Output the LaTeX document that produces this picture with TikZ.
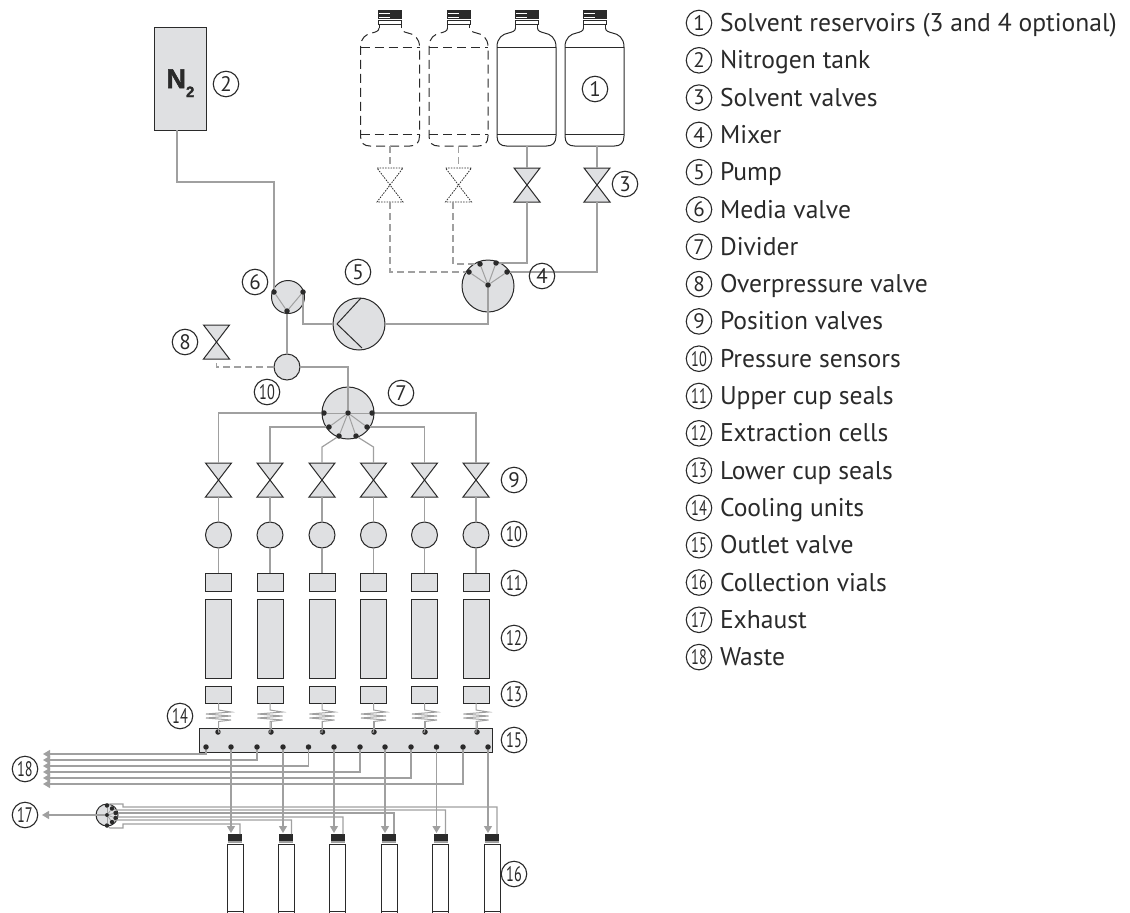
\documentclass[tikz,border=0pt]{standalone}
\usepackage{fontspec}
\usepackage{graphicx}
\setmainfont{PT Sans}
\newfontfamily\ntwofont[FakeBold=2]{Liberation Sans Bold}
\usetikzlibrary{arrows.meta,calc}
\definecolor{fillgrey}{HTML}{DFE0E2}
\definecolor{pipegrey}{HTML}{A0A0A0}
\definecolor{inkgrey}{HTML}{2A2A2A}
\tikzset{
  part/.style={draw=inkgrey,fill=fillgrey,line width=1pt,inner sep=0,outer sep=0},
  roundpart/.style={part,circle,minimum size=#1},
  boxpart/.style={part,rectangle},
  valvenode/.style={rectangle,inner sep=0,outer sep=0,minimum width=26pt,minimum height=34pt},
  valveline/.style={draw=inkgrey,fill=fillgrey,line width=1pt,line join=miter},
  ghostvalve/.style={draw=inkgrey,line width=.8pt,dash pattern=on 1.5pt off 1.2pt},
  bodyline/.style={draw=inkgrey,line width=1pt},
  ghostline/.style={draw=inkgrey,line width=1pt,dash pattern=on 9pt off 5pt},
  pipe/.style={draw=pipegrey,line width=1.2pt},
  ghostpipe/.style={draw=pipegrey,line width=1.2pt,dash pattern=on 7pt off 4pt},
  flow/.style={pipe,-{Triangle[length=7pt,width=8pt]}},
  dot/.style={circle,fill=inkgrey,inner sep=0,outer sep=0,minimum size=5.5pt},
  num/.style={circle,draw=inkgrey,line width=1.1pt,minimum size=25.5pt,inner sep=0,outer sep=0,text=inkgrey,font=\fontsize{21}{21}\selectfont},
  legend/.style={anchor=base west,inner sep=0,outer sep=0,text=inkgrey,font=\fontsize{25.6}{28}\selectfont},
}
\newcommand{\nar}[1]{\scalebox{.68}[1]{#1}}
\newcommand{\myValve}[3]{\node[valvenode] (#1) at (#2,#3) {};
  \path[valveline] (#1.north west) -- (#1.north east) -- (#1.south west) -- (#1.south east) -- cycle;}
\newcommand{\ghostValve}[3]{\node[valvenode] (#1) at (#2,#3) {};
  \path[ghostvalve] (#1.north west) -- (#1.north east) -- (#1.south west) -- (#1.south east) -- cycle;}
\newcommand{\myCap}{%
  \draw[inkgrey,line width=.8pt] (-11,28) -- (-11,24) (11,28) -- (11,24);
  \draw[inkgrey,line width=.8pt] (-11.5,20) rectangle (11.5,24);
  \draw[inkgrey,line width=.7pt] (-11.5,10) rectangle (11.5,18.5);
  \fill[inkgrey] (-11.5,10.5) rectangle (11.5,13.2);
  \fill[inkgrey] (-11.5,14.4) rectangle (11.5,16.5);
  \fill[inkgrey] (0,10.5) rectangle (11.5,18.5);
}
\newcommand{\myBottle}[3]{%
  \node[inner sep=0,outer sep=0,minimum width=59pt,minimum height=136pt] (#1) at (#2,78) {};
  \begin{scope}[shift={(#2,0)}]
    \myCap
    \path[#3] (-11,28) .. controls (-11,31) and (-14,32) .. (-18,33) .. controls (-24,34) and (-29.5,38) .. (-29.5,47) -- (-29.5,136) .. controls (-29.5,143) and (-26,146) .. (-20,146) -- (20,146) .. controls (26,146) and (29.5,143) .. (29.5,136) -- (29.5,47) .. controls (29.5,38) and (24,34) .. (18,33) .. controls (14,32) and (11,31) .. (11,28);
    \path[#3] (-29.5,47) -- (29.5,47) (-29.5,134.5) -- (29.5,134.5);
  \end{scope}}
\newcommand{\myVial}[2]{%
  \node[draw=inkgrey,fill=white,line width=1pt,inner sep=0,outer sep=0,minimum width=16pt,minimum height=70pt] (#1) at (#2,879) {};
  \draw[inkgrey,line width=.8pt] (#2-8,911) -- (#2+8,911);
  \fill[inkgrey] (#2-7,834) rectangle (#2+7,840.5);
  \fill[pipegrey] (#2-7,841) rectangle (#2+7,843);}
\begin{document}
\begin{tikzpicture}[x=1pt,y=-1pt]
\useasboundingbox (0,0) rectangle (1130,913);

%% reservoirs
\myBottle{b1}{390}{ghostline}
\myBottle{b2}{458.5}{ghostline}
\myBottle{b3}{526.5}{bodyline}
\myBottle{b4}{594.5}{bodyline}
%% solvent valves
\ghostValve{sv1}{390}{185}
\ghostValve{sv2}{458.5}{185}
\myValve{sv3}{527}{185}
\myValve{sv4}{597}{185}
\draw[ghostpipe] (sv1.north |- b1.south) -- (sv1.north);
\draw[ghostpipe] (sv2.north |- b2.south) -- (sv2.north);
\draw[pipe] (sv3.north |- b3.south) -- (sv3.north);
\draw[pipe] (sv4.north |- b4.south) -- (sv4.north);

%% nitrogen
\node[boxpart,minimum width=52pt,minimum height=103pt] (n2) at (180,78.5) {};
\node[inner sep=0,outer sep=0,anchor=base west,text=inkgrey] (n2t) at (166.5,88) {\fontsize{27}{27}\ntwofont N\raisebox{-9pt}{\fontsize{15}{15}\ntwofont 2}};
\coordinate (n2b) at (177,130);

%% main round parts
\node[roundpart=52pt] (mixer) at (488,286) {};
\node[roundpart=52pt] (pump) at (359,324) {};
\node[roundpart=33pt] (media) at (288,297) {};
\node[roundpart=26pt] (sensor) at (287,367) {};
\node[roundpart=52pt] (divider) at (348,413) {};
\myValve{ov}{216.5}{342}
\coordinate (ch1) at (361,298);
\coordinate (ch2) at (337,324);
\coordinate (ch3) at (362,348);
\draw[inkgrey,line width=1pt] (ch1) -- (ch2) -- (ch3);

%% column of parts
\foreach \i/\x in {1/218.5,2/270,3/322,4/373.5,5/424.5,6/476}{
  \myValve{pv\i}{\x}{480}
  \node[roundpart=26pt] (ps\i) at (\x,535) {};
  \node[boxpart,minimum width=26pt,minimum height=18pt] (us\i) at (\x,582) {};
  \node[boxpart,minimum width=26pt,minimum height=79pt] (ec\i) at (\x,638.5) {};
  \node[boxpart,minimum width=26pt,minimum height=17pt] (ls\i) at (\x,694.5) {};
}
\node[boxpart,minimum width=293pt,minimum height=24pt] (outlet) at (345.5,740) {};

%% mixer dots
\node[dot] (mx1) at (469,272) {};
\node[dot] (mx2) at (480,264) {};
\node[dot] (mx3) at (496,263) {};
\node[dot] (mx4) at (507,272) {};
\node[dot] (mxc) at (488,285) {};
%% media valve dots
\node[dot] (md1) at (274,292) {};
\node[dot] (md2) at (303,292) {};
\node[dot] (mdc) at (287,311) {};
%% divider dots
\node[dot] (dv1) at (324,413) {};
\node[dot] (dv2) at (372,413) {};
\node[dot] (dv3) at (329,427) {};
\node[dot] (dv4) at (367,427) {};
\node[dot] (dv5) at (339,436) {};
\node[dot] (dv6) at (356,436) {};
\node[dot] (dvc) at (348,413) {};

%% pipes upstream
\coordinate (sv2b) at (453,202);
\draw[ghostpipe] (sv1.south) |- (mx1);
\draw[ghostpipe] (sv2b) |- (mx2);
\draw[pipe] (sv3.south) |- (mx3);
\draw[pipe] (sv4.south) |- (mx4);
\foreach \i in {1,2,3,4}{\draw[pipe,line width=1pt] (mxc) -- (mx\i);}
\draw[pipe] (mxc) |- (pump.east);
\draw[pipe] (pump.west) -| (md2);
\coordinate (n2k) at (274,182);
\draw[pipe] (n2b) |- (n2k) -- (md1);
\draw[pipe,line width=1pt] (mdc) -- (md1);
\draw[pipe,line width=1pt] (mdc) -- (md2);
\draw[pipe] (mdc) -- (sensor.north);
\draw[ghostpipe] (sensor.west) -| (ov.south);
\draw[pipe] (sensor.east) -| (dvc);
\foreach \i in {1,...,6}{\draw[pipe,line width=1pt] (dvc) -- (dv\i);}
\draw[pipe] (dv1) -| (pv1.north);
\draw[pipe] (dv3) -| (pv2.north);
\draw[pipe] (dv5) -- (pv3.north |- 0,447) -- (pv3.north);
\draw[pipe] (dv6) -- (pv4.north |- 0,447) -- (pv4.north);
\draw[pipe] (dv4) -| (pv5.north);
\draw[pipe] (dv2) -| (pv6.north);
\foreach \i in {1,...,6}{
  \draw[pipe] (pv\i.south) -- (ps\i.north);
  \draw[pipe] (ps\i.south) -- (us\i.north);
}
%% outlet dots and coolers
\foreach \i/\x in {1/218,2/271,3/322.5,4/374,5/425,6/477}{
  \node[dot] (ot\i) at (\x,732) {};
  \draw[pipe,line width=1pt] (ls\i.south) -- ++(0,7) -- ++(12.5,2) -- ++(-25,2) -- ++(25,2) -- ++(-25,2) -- ++(25,2) -- ++(-12.5,1.5) |- (ot\i);
  \draw[pipe,line width=1pt] (ot\i |- 0,722) -- (ot\i);
}
\foreach \i/\x in {1/206,2/231,3/257,4/283,5/308.5,6/334,7/360,8/385,9/411,10/436.5,11/463,12/488}{
  \node[dot] (ob\i) at (\x,747) {};
}
%% waste
\foreach \i/\y in {1/754,3/760,5/766,7/772,9/778,11/784}{
  \coordinate (w\i) at (43,\y);
  \draw[flow] (ob\i) |- (w\i);
}
%% vials
\foreach \i/\x in {1/235,2/286.4,3/337.8,4/389.2,5/440.6,6/492}{
  \myVial{vi\i}{\x}
}
\foreach \o/\i/\x in {2/1/231,4/2/283,6/3/334,8/4/385,10/5/436.5,12/6/488}{
  \coordinate (va\i) at (\x,833);
  \draw[flow] (ob\o) -- (va\i);
}
%% exhaust valve
\node[roundpart=22pt] (exh) at (107,815) {};
\node[dot,minimum size=4.5pt] (ex1) at (107,805.5) {};
\node[dot,minimum size=4.5pt] (ex2) at (112,808.5) {};
\node[dot,minimum size=4.5pt] (ex3) at (115.5,813) {};
\node[dot,minimum size=4.5pt] (ex4) at (115.5,818) {};
\node[dot,minimum size=4.5pt] (ex5) at (112,822) {};
\node[dot,minimum size=4.5pt] (ex6) at (107,825.5) {};
\node[dot,minimum size=4pt] (exc) at (107,815) {};
\foreach \i in {1,...,6}{\draw[pipe,line width=.8pt] (exc) -- (ex\i);}
\coordinate (ea1) at (497,834);
\coordinate (ea2) at (445.5,834);
\coordinate (ea3) at (394,834);
\coordinate (ea4) at (343,834);
\coordinate (ea5) at (291.5,834);
\coordinate (ea6) at (240,834);
\draw[pipe,line width=1.1pt] (ex1) -- (110,804) -- (123,804) -- (123,807) -| (ea1);
\draw[pipe,line width=1.1pt] (ex2) -- (116,810) -| (ea2);
\draw[pipe,line width=1.1pt] (ex3) -| (ea3);
\draw[pipe,line width=1.1pt] (ex4) -- (118,817) -| (ea4);
\draw[pipe,line width=1.1pt] (ex5) -- (117,820) -| (ea5);
\draw[pipe,line width=1.1pt] (ex6) -- (110,828) -- (123,828) -- (123,824) -| (ea6);
\coordinate (ext) at (42,815);
\draw[flow] (exc) -- (ext);

%% item numbers on the drawing
\node[num] (l1) at (595,89) {1};
\node[num] (l2) at (226,84) {2};
\node[num] (l3) at (625,184) {3};
\node[num] (l4) at (542,276) {4};
\node[num] (l5) at (358,272) {5};
\node[num] (l6) at (255,282) {6};
\node[num] (l7) at (401,393) {7};
\node[num] (l8) at (185,342) {8};
\node[num] (l9) at (514,480) {9};
\node[num] (l10a) at (267,392) {\nar{10}};
\node[num] (l10b) at (514,534) {\nar{10}};
\node[num] (l11) at (514,583) {\nar{11}};
\node[num] (l12) at (514,638) {\nar{12}};
\node[num] (l13) at (514,694) {\nar{13}};
\node[num] (l14) at (180,716) {\nar{14}};
\node[num] (l15) at (514,740) {\nar{15}};
\node[num] (l16) at (514,874) {\nar{16}};
\node[num] (l17) at (25,815) {\nar{17}};
\node[num] (l18) at (25,769) {\nar{18}};

%% legend
\foreach \i/\t in {1/Solvent reservoirs (3 and 4 optional),2/Nitrogen tank,3/Solvent valves,4/Mixer,5/Pump,6/Media valve,7/Divider,8/Overpressure valve,9/Position valves,10/Pressure sensors,11/Upper cup seals,12/Extraction cells,13/Lower cup seals,14/Cooling units,15/Outlet valve,16/Collection vials,17/Exhaust,18/Waste}{
  \pgfmathsetmacro{\yy}{23+(\i-1)*37.3}
  \ifnum\i<10
    \node[num] (k\i) at (699,\yy) {\i};
  \else
    \node[num] (k\i) at (699,\yy) {\nar{\i}};
  \fi
  \node[legend] (t\i) at (720,\yy+8.5) {\t};
}
\end{tikzpicture}
\end{document}
